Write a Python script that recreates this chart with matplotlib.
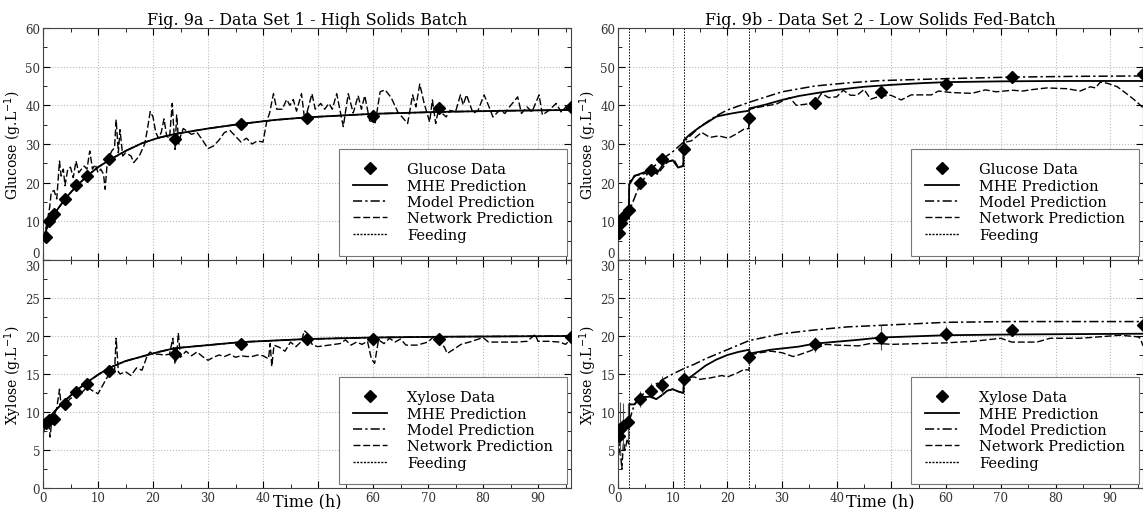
import matplotlib
matplotlib.use("Agg")
import matplotlib.pyplot as plt
from matplotlib.lines import Line2D
from matplotlib.ticker import AutoMinorLocator, MultipleLocator, FuncFormatter

plt.rcParams["font.family"] = ["DejaVu Serif"]
plt.rcParams["xtick.direction"] = "in"
plt.rcParams["ytick.direction"] = "in"

# ---- Data Set 1 (high solids batch) ----
t_data_1 = [0.5, 1, 2, 4, 6, 8, 12, 24, 36, 48, 60, 72, 96]
glc_data_1 = [6.0, 10.2, 11.8, 15.8, 19.4, 21.8, 26.0, 31.2, 35.2, 36.8, 37.2, 39.3, 39.5]
glc_err_1 = [0.6, 0.8, 0.8, 0.8, 0.8, 0.8, 1.0, 1.4, 0.6, 0.6, 0.6, 0.6, 0.6]
xyl_data_1 = [8.6, 8.9, 9.1, 11.1, 12.6, 13.7, 15.4, 17.6, 19.0, 19.6, 19.6, 19.6, 19.9]
xyl_err_1 = [0.5, 0.5, 0.5, 0.5, 0.5, 0.5, 0.6, 0.8, 0.6, 0.6, 0.6, 0.5, 0.5]

t_fit_1 = [0, 1, 2, 4, 6, 8, 10, 12, 15, 18, 21, 24, 30, 36, 42, 48, 60, 72, 84, 96]
glc_mhe_1 = [5.5, 9.3, 11.8, 15.8, 19.0, 21.7, 24.0, 25.8, 28.2, 30.2, 31.6, 32.6,
             34.0, 35.2, 36.2, 36.9, 37.8, 38.3, 38.6, 38.8]
glc_model_1 = [5.5, 9.3, 11.8, 15.8, 19.0, 21.7, 24.0, 25.8, 28.2, 30.2, 31.6, 32.6,
               34.0, 35.2, 36.2, 36.9, 37.8, 38.3, 38.6, 38.8]
xyl_mhe_1 = [8.2, 9.2, 10.0, 11.5, 12.8, 13.9, 14.9, 15.8, 16.7, 17.3, 17.9, 18.4,
             18.8, 19.2, 19.4, 19.6, 19.8, 19.9, 19.95, 20.0]
xyl_model_1 = [8.2, 9.2, 10.0, 11.5, 12.8, 13.9, 14.9, 15.8, 16.7, 17.3, 17.9, 18.4,
               18.8, 19.2, 19.4, 19.6, 19.8, 19.9, 19.95, 20.0]

t_net_glc_1 = [0, 0.5, 1, 1.2, 1.5, 2, 2.5, 3, 3.3, 3.7, 4, 4.5, 5, 5.5, 6, 6.5, 7, 7.5, 8,
               8.5, 9, 9.5, 10, 10.5, 11, 11.3, 11.7, 12.5, 13, 13.3, 13.7, 14, 14.5, 15,
               16, 16.5, 17.5, 18.5, 19, 19.5, 20, 20.5, 21, 21.5, 22, 22.5, 23, 23.5, 24,
               24.3, 24.7, 25, 25.5, 26, 27, 28, 29, 30, 31, 32, 33, 34, 35, 36, 37, 38, 39,
               40, 40.7, 41.2, 41.9, 42.5, 43.5, 44.3, 44.9, 45.5, 46.1, 47, 47.6, 48.9,
               49.5, 50.5, 51.2, 52, 52.6, 53.4, 54.6, 55.5, 56.4, 57.3, 57.9, 58.5, 59.4,
               60.4, 61.3, 62.2, 63.3, 64.5, 66.3, 67.2, 67.8, 68.5, 69.3, 70.3, 70.8,
               71.4, 72, 72.6, 73.3, 74, 75, 75.9, 76.4, 77, 78.2, 79.1, 80.2, 81.1, 81.8,
               83, 84, 84.6, 86.3, 87, 88, 88.9, 90.2, 90.8, 92, 93.3, 94.2, 95.1, 96]
glc_net_1 = [5.5, 8.0, 12.0, 13.5, 17.5, 18.0, 15.8, 25.6, 21.7, 23.5, 19.2, 23.5, 24.0,
             21.3, 25.6, 22.6, 23.5, 24.3, 23.5, 28.2, 23.5, 24.7, 22.6, 23.5, 22.2, 18.3,
             25.6, 28.2, 29.0, 36.3, 27.7, 33.7, 26.9, 27.7, 26.9, 25.2, 26.9, 30.0, 34.0,
             38.4, 37.0, 33.0, 31.5, 33.0, 36.5, 32.0, 31.5, 40.5, 28.6, 37.5, 30.0, 32.0,
             34.0, 33.5, 32.5, 33.0, 31.0, 28.8, 29.5, 31.0, 33.0, 33.5, 32.0, 30.5, 31.5,
             30.0, 30.8, 30.5, 36.0, 38.0, 43.0, 39.0, 39.0, 41.5, 40.0, 41.5, 38.5, 43.0,
             36.0, 43.0, 39.0, 40.5, 39.0, 40.5, 39.0, 43.0, 34.5, 43.0, 38.0, 42.5, 39.0,
             42.5, 36.0, 35.5, 43.5, 44.0, 42.0, 38.3, 35.3, 42.7, 39.6, 45.5, 40.5, 35.7,
             41.4, 35.3, 39.6, 37.9, 37.0, 38.7, 38.3, 42.7, 40.1, 42.7, 37.9, 38.7, 42.7,
             39.6, 37.0, 38.7, 37.9, 39.2, 42.2, 37.9, 39.6, 38.3, 42.7, 37.5, 38.7, 40.5,
             38.3, 39.6, 39.5]

t_net_xyl_1 = [0, 0.5, 1, 1.3, 1.6, 2, 2.5, 3, 3.3, 4, 5, 6, 6.5, 7, 8, 9, 10, 11, 12, 13,
               13.3, 13.7, 14, 15, 16, 17, 18, 19, 19.5, 20, 21, 22, 23, 23.6, 24, 24.3,
               24.6, 25, 26, 27, 28, 29, 30, 31, 32, 33, 34, 35, 36, 37, 38, 39, 40, 41,
               41.3, 41.6, 42, 43, 44, 45, 46, 47, 47.5, 48, 49, 50, 52, 54, 55, 56, 57, 58,
               59, 59.7, 60.3, 61, 62, 63, 64, 65, 66, 68, 70, 71, 72, 73, 73.5, 75, 76, 78,
               80, 81, 84, 86, 88, 89.5, 90, 92, 94, 95, 96]
xyl_net_1 = [7.0, 8.5, 9.0, 6.7, 9.0, 9.5, 10.5, 13.0, 10.8, 11.0, 11.8, 12.0, 12.7, 12.5,
             13.3, 12.8, 12.4, 13.7, 15.0, 15.3, 19.7, 15.3, 15.0, 15.3, 14.8, 15.8, 15.5,
             17.5, 17.9, 17.6, 17.6, 17.5, 17.6, 19.7, 16.3, 17.3, 20.4, 17.2, 18.0, 17.4,
             17.9, 17.3, 16.8, 17.2, 17.5, 17.3, 17.6, 17.2, 17.4, 17.3, 17.3, 17.5, 17.4,
             17.0, 19.0, 16.0, 18.8, 18.5, 18.0, 19.2, 18.6, 19.3, 20.7, 20.4, 18.8, 18.6,
             18.8, 19.0, 19.5, 18.8, 19.2, 18.9, 19.3, 17.0, 16.4, 19.5, 19.0, 19.7, 19.2,
             19.6, 18.8, 18.8, 19.2, 19.9, 19.5, 18.5, 17.7, 18.4, 18.9, 19.3, 19.8, 19.2,
             19.2, 19.2, 19.3, 20.2, 19.3, 19.3, 19.2, 18.9, 19.6]

feed_times_1 = []

# ---- Data Set 2 (low solids fed-batch) ----
t_data_2 = [0.1, 0.5, 1, 2, 4, 6, 8, 12, 24, 36, 48, 60, 72, 96]
glc_data_2 = [7.1, 9.5, 11.0, 12.9, 20.0, 23.2, 26.1, 28.7, 36.8, 40.5, 43.5, 45.6, 47.2, 48.2]
glc_err_2 = [1.0, 1.5, 1.5, 1.2, 0.6, 0.6, 0.6, 0.8, 0.8, 0.6, 0.6, 0.6, 0.6, 0.6]
t_xdata_2 = [0.1, 0.4, 1, 1.8, 4, 6, 8, 12, 24, 36, 48, 60, 72, 96]
xyl_data_2 = [6.9, 7.8, 8.2, 8.7, 11.7, 12.8, 13.5, 14.4, 17.2, 18.9, 19.8, 20.3, 20.8, 21.5]
xyl_err_2 = [1.0, 3.5, 3.0, 2.5, 1.0, 1.0, 1.3, 1.0, 1.0, 1.0, 1.6, 1.0, 0.8, 1.5]

t_mhe_2 = [0, 0.5, 1, 2, 2.05, 2.5, 3, 3.5, 5.4, 7.2, 8.5, 10, 11, 11.95, 12.05, 13, 14,
           15, 16, 18, 20, 22, 23.95, 24.05, 27, 30, 33, 36, 40, 45, 50, 55, 60, 70, 80, 96]
glc_mhe_2 = [7.0, 9.5, 11.0, 12.5, 19.5, 20.5, 21.8, 22.0, 23.0, 22.6, 25.2, 25.8, 23.9,
             24.4, 31.0, 32.3, 33.4, 34.4, 35.3, 37.1, 37.7, 38.2, 38.6, 39.2, 40.2, 41.4,
             42.4, 43.1, 44.0, 44.8, 45.3, 45.7, 46.0, 46.2, 46.3, 46.3]
t_model_2 = [0, 0.5, 1, 2, 3, 4, 6, 8, 10, 12, 15, 18, 20, 24, 30, 36, 42, 48, 60, 72, 84, 96]
glc_model_2 = [7.0, 9.5, 11.0, 12.5, 16.0, 19.5, 23.5, 26.0, 28.0, 30.5, 34.5, 37.3, 38.8,
               40.8, 43.5, 45.0, 45.8, 46.4, 46.9, 47.3, 47.5, 47.6]

t_net_glc_2 = [0, 0.5, 1, 1.5, 2, 2.05, 2.3, 3.2, 6.3, 7.2, 9.1, 10.3, 11, 11.9, 12.05,
               13.4, 15.3, 16.8, 18.4, 20.2, 21.5, 23, 23.9, 24.05, 26.4, 28.9, 31.4, 32.6,
               34.4, 36.3, 37.2, 38.5, 40, 41.2, 42.5, 43.7, 45, 46.2, 48, 49.9, 51.8, 53.6,
               57.3, 58.6, 61, 64.7, 67.2, 69.1, 72.2, 74, 75.9, 78.4, 82.1, 84.5, 86.4,
               87.3, 88.2, 89.5, 91.3, 93.1, 94.7, 96]
glc_net_2 = [5.0, 9.5, 12.0, 12.5, 13.0, 19.5, 20.5, 21.8, 22.8, 22.2, 25.4, 25.8, 24.0,
             24.2, 30.4, 30.8, 33.0, 31.7, 32.1, 31.5, 32.5, 33.8, 34.0, 39.0, 39.7, 40.3,
             42.0, 40.0, 40.3, 41.1, 43.1, 42.0, 42.2, 43.9, 42.6, 42.6, 44.1, 41.6, 42.4,
             42.6, 41.4, 42.7, 42.7, 43.7, 43.3, 43.1, 44.0, 43.5, 43.9, 43.7, 44.1, 44.5,
             44.3, 43.7, 44.8, 44.5, 46.0, 45.7, 44.8, 42.9, 41.1, 39.4]

t_xmhe_2 = [0, 1, 2, 2.05, 3, 4, 5, 6, 7, 8, 9, 10, 11, 11.95, 12.05, 14, 16, 18, 20, 22,
            24, 24.1, 28, 33, 36, 44, 48, 60, 72, 96]
xyl_mhe_2 = [7.0, 8.0, 8.7, 11.0, 11.0, 11.8, 12.0, 12.0, 11.7, 12.2, 12.8, 13.0, 12.7,
             12.5, 14.0, 15.0, 16.1, 16.9, 17.5, 17.9, 18.2, 17.7, 18.2, 18.6, 19.0, 19.5,
             19.8, 20.1, 20.2, 20.3]
t_xmodel_2 = [0, 1, 2, 3, 4, 6, 8, 10, 12, 14, 16, 18, 20, 24, 30, 36, 42, 48, 60, 72, 96]
xyl_model_2 = [7.0, 7.8, 8.7, 11.0, 12.0, 13.2, 14.2, 15.0, 15.7, 16.3, 17.0, 17.6, 18.2,
               19.4, 20.3, 20.8, 21.2, 21.4, 21.8, 21.9, 21.9]
t_net_xyl_2 = [0, 0.3, 0.7, 1, 1.3, 1.7, 1.95, 2.05, 3, 4, 5, 6, 7, 8, 9, 10, 11, 11.95,
               12.05, 14, 15, 17, 19, 20, 22, 23, 23.95, 24.05, 26, 28, 30, 32, 33, 35, 37,
               38, 40, 44, 46, 48, 50, 55, 60, 65, 70, 72, 76.6, 79, 84.5, 88.2, 91.8, 95,
               95.5, 96]
xyl_net_2 = [3.0, 6.0, 2.5, 6.0, 5.0, 6.5, 5.8, 11.0, 11.0, 11.8, 12.0, 12.0, 11.7, 12.2,
             12.8, 13.0, 12.7, 12.5, 14.6, 14.6, 14.3, 14.5, 14.8, 14.6, 15.2, 15.6, 15.5,
             17.5, 17.8, 18.0, 17.8, 17.3, 17.5, 18.0, 18.6, 18.9, 18.8, 18.7, 19.0, 19.0,
             18.9, 19.0, 19.1, 19.3, 19.7, 19.2, 19.2, 19.7, 19.7, 19.9, 20.1, 19.9, 19.7,
             18.7]

feed_times_2 = [2, 12, 24]

W, H = 1143, 510
fig = plt.figure(figsize=(W / 100, H / 100), dpi=100)


def px_axes(x0, y0, x1, y1):
    return fig.add_axes([x0 / W, 1 - y1 / H, (x1 - x0) / W, (y1 - y0) / H])


ax_g1 = px_axes(43, 29, 571, 261)
ax_x1 = px_axes(43, 261, 571, 489)
ax_g2 = px_axes(618, 29, 1143, 261)
ax_x2 = px_axes(618, 261, 1143, 489)


def draw(ax, td, yd, ed, tm, ym, tmod, ymod, tn, yn, feeds, name, ymax, ystep, ylabel):
    for f in feeds:
        ax.axvline(f, color="black", ls=(0, (1.5, 1.5)), lw=0.7)
    ax.errorbar(td, yd, yerr=ed, fmt="D", color="black", ms=6, ecolor="#555555",
                elinewidth=0.8, capsize=0, zorder=5)
    ax.plot(tmod, ymod, color="black", ls=(0, (6, 2, 1.5, 2)), lw=1.1)
    ax.plot(tn, yn, color="black", ls=(0, (5, 2)), lw=1.0)
    ax.plot(tm, ym, color="black", ls="-", lw=1.3)
    ax.set_xlim(0, 96)
    ax.set_ylim(0, ymax)
    ax.xaxis.set_major_locator(MultipleLocator(10))
    ax.yaxis.set_major_locator(MultipleLocator(ystep))
    ax.xaxis.set_minor_locator(AutoMinorLocator(2))
    ax.yaxis.set_minor_locator(AutoMinorLocator(2))
    ax.tick_params(which="both", top=True, right=True, labelsize=8.5, labelcolor="#333333")
    ax.tick_params(which="major", length=5, pad=2)
    ax.tick_params(which="minor", length=3)
    ax.grid(True, which="major", color="#bbbbbb", ls=":", lw=0.8)
    ax.set_ylabel(ylabel, fontsize=10, labelpad=1)
    for s in ax.spines.values():
        s.set_color("#444444")
    handles = [
        Line2D([], [], color="black", marker="D", ls="none", ms=6),
        Line2D([], [], color="black", ls="-", lw=1.3),
        Line2D([], [], color="black", ls=(0, (6, 2, 1.5, 2)), lw=1.1),
        Line2D([], [], color="black", ls=(0, (5, 2)), lw=1.0),
        Line2D([], [], color="black", ls=(0, (1.5, 1.0)), lw=1.0),
    ]
    labels = [name + " Data", "MHE Prediction", "Model Prediction", "Network Prediction", "Feeding"]
    leg = ax.legend(handles, labels, loc="lower right", fontsize=10.5, fancybox=False,
                    framealpha=1, edgecolor="#777777", borderpad=0.95, labelspacing=0.16,
                    handlelength=2.35, handletextpad=1.35, borderaxespad=0.3)
    leg.get_frame().set_linewidth(0.8)


draw(ax_g1, t_data_1, glc_data_1, glc_err_1, t_fit_1, glc_mhe_1, t_fit_1, glc_model_1,
     t_net_glc_1, glc_net_1, feed_times_1, "Glucose", 60, 10, "Glucose (g.L$^{-1}$)")
draw(ax_x1, t_data_1, xyl_data_1, xyl_err_1, t_fit_1, xyl_mhe_1, t_fit_1, xyl_model_1,
     t_net_xyl_1, xyl_net_1, feed_times_1, "Xylose", 30, 5, "Xylose (g.L$^{-1}$)")
draw(ax_g2, t_data_2, glc_data_2, glc_err_2, t_mhe_2, glc_mhe_2, t_model_2, glc_model_2,
     t_net_glc_2, glc_net_2, feed_times_2, "Glucose", 60, 10, "Glucose (g.L$^{-1}$)")
draw(ax_x2, t_xdata_2, xyl_data_2, xyl_err_2, t_xmhe_2, xyl_mhe_2, t_xmodel_2, xyl_model_2,
     t_net_xyl_2, xyl_net_2, feed_times_2, "Xylose", 30, 5, "Xylose (g.L$^{-1}$)")

for ax in (ax_g1, ax_g2):
    ax.tick_params(labelbottom=False)
for ax in (ax_x1, ax_x2):
    # the "Time (h)" label sits where the 50 tick label would be
    ax.xaxis.set_major_formatter(FuncFormatter(lambda v, p: "" if round(v) == 50 else f"{v:.0f}"))
    ax.set_xlabel("Time (h)", fontsize=11.5, labelpad=-8)

ax_g1.set_title("Fig. 9a - Data Set 1 - High Solids Batch", fontsize=11.5, pad=2)
ax_g2.set_title("Fig. 9b - Data Set 2 - Low Solids Fed-Batch", fontsize=11.5, pad=2)

# keep the 0 of the upper panels and the 30 of the lower panels apart
fig.canvas.draw()
for ax in (ax_g1, ax_g2):
    for lab in ax.get_yticklabels():
        if lab.get_text() == "0":
            lab.set_va("bottom")
for ax in (ax_x1, ax_x2):
    for lab in ax.get_yticklabels():
        if lab.get_text() == "30":
            lab.set_va("top")

fig.savefig("out.png", dpi=100)
